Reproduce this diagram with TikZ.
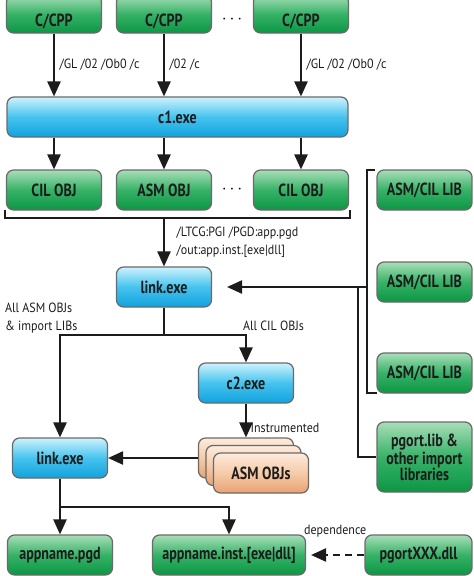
\documentclass[tikz,border=0pt]{standalone}
\usepackage{fontspec}
\setmainfont{PT Sans}[FakeStretch=0.8]
\newfontfamily\labelfont{PT Sans}[FakeStretch=0.9]
\usetikzlibrary{arrows.meta}

\definecolor{gtop}{HTML}{A8DEB8}
\definecolor{gmid}{HTML}{36B267}
\definecolor{gbot}{HTML}{0C9644}
\definecolor{btop}{HTML}{CDF2FD}
\definecolor{bmid}{HTML}{45C3EE}
\definecolor{bbot}{HTML}{12A2DD}
\definecolor{otop}{HTML}{FDEBDD}
\definecolor{omid}{HTML}{F5CBA8}
\definecolor{obot}{HTML}{E9A274}
\definecolor{boxline}{HTML}{6A6A6A}
\definecolor{ink}{HTML}{1C1C1C}

\tikzset{
  box/.style={draw=boxline, line width=0.7pt, rounded corners=4pt,
    minimum width=1.9cm, minimum height=0.8cm, inner sep=0pt,
    text=ink, font=\fontsize{10}{9.2}\selectfont\bfseries},
  greenbox/.style={box, top color=gtop, bottom color=gbot, middle color=gmid},
  bluebox/.style={box, top color=btop, bottom color=bbot, middle color=bmid},
  orangebox/.style={box, top color=otop, bottom color=obot, middle color=omid},
  cutbox/.style={minimum height=0pt, text height=0.63cm, text depth=0.13cm},
  flow/.style={line width=1pt, draw=ink, -{Triangle[length=8.5pt,width=7.5pt]}},
  wire/.style={line width=1pt, draw=ink},
  lbl/.style={text=ink, inner sep=1pt, font=\labelfont\fontsize{7.6}{10}\selectfont}
}

\begin{document}
\begin{tikzpicture}[x=0.02cm, y=-0.02cm]
  \useasboundingbox (0,0) rectangle (474,576);

  % sources
  \node[greenbox, cutbox] (cpp1) at (54,14) {C/CPP};
  \node[greenbox, cutbox] (cpp2) at (164,14) {C/CPP};
  \node[greenbox, cutbox] (cpp3) at (301,14) {C/CPP};
  \node (dots1) at (232,20) {$\cdots$};

  % compiler front end
  \node[bluebox, minimum width=6.82cm] (c1) at (177.5,117) {c1.exe};
  \draw[flow] (cpp1) -- (cpp1 |- c1.north) node[lbl, midway, right, xshift=0.06cm] {/GL /02 /Ob0 /c};
  \draw[flow] (cpp2) -- (cpp2 |- c1.north) node[lbl, midway, right, xshift=0.06cm] {/02 /c};
  \draw[flow] (cpp3) -- (cpp3 |- c1.north) node[lbl, midway, right, xshift=0.06cm] {/GL /02 /Ob0 /c};

  % objects
  \node[greenbox] (obj1) at (54,190) {CIL OBJ};
  \node[greenbox] (obj2) at (164,190) {ASM OBJ};
  \node[greenbox] (obj3) at (301,190) {CIL OBJ};
  \node (dots2) at (232,190) {$\cdots$};
  \draw[flow] (obj1 |- c1.south) -- (obj1);
  \draw[flow] (obj2 |- c1.south) -- (obj2);
  \draw[flow] (obj3 |- c1.south) -- (obj3);

  % libraries
  \node[greenbox] (lib1) at (424.5,190) {ASM/CIL LIB};
  \node[greenbox] (lib2) at (424.5,282) {ASM/CIL LIB};
  \node[greenbox] (lib3) at (424.5,373) {ASM/CIL LIB};
  \node[greenbox, minimum height=1.4cm, align=center] (pgortlib) at (424.5,457) {pgort.lib \&\\other import\\libraries};

  % brackets
  \coordinate (objjoin) at (164,218);
  \coordinate (libjoin) at (367,287);
  \coordinate (pgjoin) at (358,287);
  \draw[wire] (5,210) -- (5,218) -- (350,218) -- (350,210);
  \draw[wire] (375,170) -- (367,170) -- (367,393) -- (377,393);

  % first link
  \node[bluebox] (link1) at (164,287) {link.exe};
  \draw[flow] (objjoin) -- (link1.north) node[lbl, midway, right, align=left, xshift=0.2cm] {/LTCG:PGI /PGD:app.pgd\\/out:app.inst.[exe|dll]};
  \draw[flow, shorten >=0.3cm] (libjoin) -- (link1.east);
  \draw[wire] (pgjoin) |- (pgortlib.west);

  % split after link
  \coordinate (split1) at (164,335);
  \node[bluebox] (c2) at (246,383) {c2.exe};
  \node[bluebox] (link2) at (60,458) {link.exe};
  \draw[flow] (link1.south) -- (split1) -| (link2.north);
  \draw[flow] (split1) -| (c2.north);
  \node[lbl, anchor=west, align=left] (asmlbl) at (3,318) {All ASM OBJs\\\& import LIBs};
  \node[lbl, anchor=west] (cillbl) at (241,326) {All CIL OBJs};

  % instrumented objects
  \node[orangebox] (asm3) at (246,458) {};
  \node[orangebox] (asm2) at (253.5,465.5) {};
  \node[orangebox] (asm1) at (261,473) {ASM OBJs};
  \draw[flow] (c2.south) -- (asm3.north) node[lbl, pos=0.72, right, xshift=0.04cm] {Instrumented};
  \draw[flow] (asm3.west) -- (link2.east);

  % outputs
  \coordinate (split2) at (60,507);
  \node[greenbox, minimum width=2.1cm] (pgd) at (60,555) {appname.pgd};
  \node[greenbox, minimum width=3.06cm] (inst) at (229,555) {appname.inst.[exe|dll]};
  \node[greenbox, minimum width=2.14cm] (pgortdll) at (418.5,555) {pgortXXX.dll};
  \draw[flow] (link2.south) -- (split2) -- (pgd.north);
  \draw[flow] (split2) -| (inst.north);
  \draw[flow, dash pattern=on 4pt off 3pt, shorten >=0.1cm] (pgortdll.west) -- (inst.east) node[lbl, midway, above=0.3cm] {dependence};
\end{tikzpicture}
\end{document}
